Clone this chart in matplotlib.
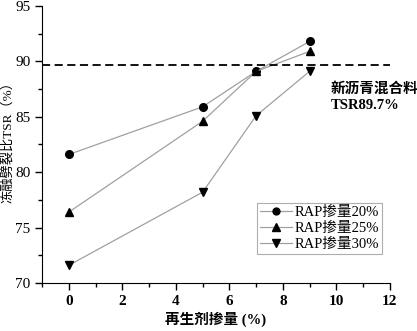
import matplotlib
matplotlib.use("Agg")
import matplotlib.pyplot as plt
from matplotlib.ticker import MultipleLocator

plt.rcParams['font.family'] = ['Liberation Serif', 'Noto Sans CJK SC']

# rejuvenator dosage (%)
dosage = [0, 5, 7, 9]
tsr_rap20 = [81.6, 85.9, 89.1, 91.8]
tsr_rap25 = [76.4, 84.6, 89.1, 90.9]
tsr_rap30 = [71.6, 78.2, 85.1, 89.1]
labels = ['RAP掺量20%', 'RAP掺量25%', 'RAP掺量30%']
new_mix_tsr = 89.7

fig = plt.figure(figsize=(4.17, 3.31), dpi=100)
ax = fig.add_axes([0.101, 0.145, 0.834, 0.837])

line_kw = dict(color='#a0a0a0', lw=0.9, markerfacecolor='black',
               markeredgecolor='black')
ax.plot(dosage, tsr_rap20, marker='o', ms=5.5, label=labels[0], **line_kw)
ax.plot(dosage, tsr_rap25, marker='^', ms=6, label=labels[1], **line_kw)
ax.plot(dosage, tsr_rap30, marker='v', ms=6, label=labels[2], **line_kw)

ax.axhline(new_mix_tsr, color='black', lw=1.3, ls=(0, (4.5, 2.5)))
ax.text(9.78, 86.8, '新沥青混合料\nTSR89.7%', fontsize=10.5, fontweight='bold',
        va='center', ha='left', linespacing=1.35)

ax.set_xlim(-1, 12)
ax.set_ylim(70, 95)
ax.xaxis.set_major_locator(MultipleLocator(2))
ax.xaxis.set_minor_locator(MultipleLocator(1))
ax.yaxis.set_major_locator(MultipleLocator(5))
ax.yaxis.set_minor_locator(MultipleLocator(2.5))
ax.spines['top'].set_visible(False)
ax.spines['right'].set_visible(False)
ax.tick_params(which='major', direction='out', length=5, width=1, labelsize=11)
ax.tick_params(which='minor', direction='out', length=3, width=1)
for lbl in ax.get_xticklabels():
    lbl.set_fontweight('bold')

ax.set_xlabel('再生剂掺量 (%)', fontsize=10.5, fontweight='bold')
ax.set_ylabel('冻融劈裂比TSR（%）', fontsize=9.5)
ax.yaxis.set_label_coords(-0.08, 0.52)
ax.xaxis.set_label_coords(0.5, -0.105)

leg = ax.legend(loc='upper left', bbox_to_anchor=(0.618, 0.29), fontsize=10.5,
                frameon=True, fancybox=False, edgecolor='#999999',
                borderpad=0.2, labelspacing=0.2, handlelength=2.2,
                handletextpad=0.2, borderaxespad=0, markerscale=0.9)
leg.get_frame().set_linewidth(0.8)

fig.savefig('out.png', dpi=100)
